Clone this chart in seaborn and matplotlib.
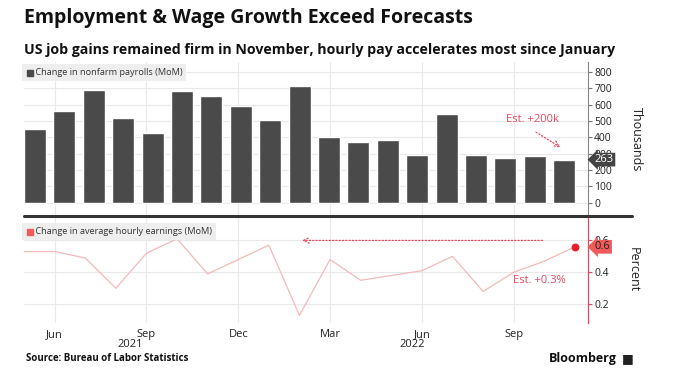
import numpy as np
import matplotlib
matplotlib.use("Agg")
import matplotlib.pyplot as plt
import matplotlib.transforms as mtransforms
import seaborn as sns

# monthly data, May 2021 .. Nov 2022
months = ["May", "Jun", "Jul", "Aug", "Sep", "Oct", "Nov", "Dec", "Jan", "Feb",
          "Mar", "Apr", "May", "Jun", "Jul", "Aug", "Sep", "Oct", "Nov"]
payrolls = [450, 560, 690, 520, 425, 680, 650, 590, 505, 715,
            400, 370, 385, 290, 540, 290, 270, 285, 263]
hourly_earnings = [0.53, 0.53, 0.49, 0.30, 0.52, 0.61, 0.39, 0.48, 0.57, 0.13,
                   0.48, 0.35, 0.38, 0.41, 0.50, 0.28, 0.40, 0.47, 0.56]
tick_labels = ["Jun", "Sep", "Dec", "Mar", "Jun", "Sep"]
year_labels = ["2021", "2022"]

BAR = "#4a4a4a"
LINE = "#f3b9bb"
RED = "#e8475f"
GRID = "#e9e9e9"
TXT = "#222222"

sns.set_style("white")
plt.rcParams["font.family"] = ["Open Sans", "DejaVu Sans"]

fig = plt.figure(figsize=(6.75, 3.91), dpi=100)
ax1 = fig.add_axes([0.0356, 0.4483, 0.8356, 0.3931])
ax2 = fig.add_axes([0.0356, 0.1731, 0.8356, 0.2752], sharex=ax1)

# month positions: 0 = May 2021
line_x = np.arange(len(hourly_earnings))
bar_x = np.linspace(0.36, 17.65, len(payrolls))
tick_pos = [1, 4, 7, 10, 13, 16]


def legend_box(ax, y, label, color):
    # grey label box with a small coloured square
    ax.text(0.003, y, "    " + label, transform=ax.transAxes, fontsize=6.6,
            color="#333333", va="center", ha="left", zorder=5,
            bbox=dict(boxstyle="square,pad=0.45", fc="#eeeeee", ec="none"))
    ax.plot([0.011], [y], marker="s", ms=4.5, color=color, transform=ax.transAxes,
            clip_on=False, zorder=6)


# --- top panel: payrolls
sns.barplot(x=bar_x, y=payrolls, native_scale=True, color=BAR, width=0.75,
            errorbar=None, saturation=1, ax=ax1, zorder=3)
ax1.set_ylim(-80, 860)
ax1.set_xlim(0, 18.43)
ax1.set_yticks(range(0, 801, 100))
ax1.yaxis.tick_right()
ax1.tick_params(axis="y", length=3, width=0.8, color="#777777", labelsize=7.5,
                labelcolor=TXT, pad=1.5, right=True)
ax1.tick_params(axis="x", bottom=False, labelbottom=False)
ax1.set_xticks(tick_pos)
ax1.grid(True, color=GRID, lw=0.8, zorder=0)
for s in ["top", "left", "bottom"]:
    ax1.spines[s].set_visible(False)
ax1.spines["right"].set_color("#888888")
ax1.spines["right"].set_linewidth(0.8)
ax1.set_ylabel("Thousands", rotation=270, fontsize=9, color=TXT, labelpad=22)
ax1.yaxis.set_label_position("right")

legend_box(ax1, 0.93, "Change in nonfarm payrolls (MoM)", BAR)

ax1.annotate("", xy=(17.6, 330), xytext=(16.65, 440),
             arrowprops=dict(arrowstyle="->", color=RED, lw=0.9, ls=":"))
ax1.text(16.6, 510, "Est. +200k", color=RED, fontsize=8, ha="center", va="center")

tr1 = mtransforms.blended_transform_factory(ax1.transAxes, ax1.transData)
ax1.text(1.012, payrolls[-1], str(payrolls[-1]), transform=tr1, fontsize=8,
         color="white", va="center", ha="left", zorder=6, clip_on=False,
         bbox=dict(boxstyle="larrow,pad=0.12", fc="#444444", ec="none"))

# --- bottom panel: hourly earnings
sns.lineplot(x=line_x, y=hourly_earnings, color=LINE, lw=0.9, ax=ax2, zorder=3)
ax2.scatter([line_x[-1]], [hourly_earnings[-1]], s=22, color="#e81e2b", zorder=5,
            clip_on=False)
ax2.set_ylim(0.08, 0.755)
ax2.set_yticks([0.2, 0.4, 0.6])
ax2.set_xlim(0, 18.43)
ax2.set_xticks(tick_pos)
ax2.set_xticklabels(tick_labels)
ax2.yaxis.tick_right()
ax2.tick_params(axis="y", length=3, width=0.8, color=RED, labelsize=7.5,
                labelcolor=TXT, pad=1.5, right=True)
ax2.tick_params(axis="x", length=0, labelsize=8, labelcolor=TXT, pad=4)
ax2.grid(True, color=GRID, lw=0.8, zorder=0)
for s in ["top", "left", "bottom"]:
    ax2.spines[s].set_visible(False)
ax2.spines["right"].set_color(RED)
ax2.spines["right"].set_linewidth(0.9)
ax2.set_ylabel("Percent", rotation=270, fontsize=9, color=TXT, labelpad=22)
ax2.yaxis.set_label_position("right")

trx = mtransforms.blended_transform_factory(ax2.transData, ax2.transAxes)
ax2.text(3.46, -0.2, year_labels[0], transform=trx, fontsize=8, color=TXT,
         ha="center", va="center")
ax2.text(12.68, -0.2, year_labels[1], transform=trx, fontsize=8, color=TXT,
         ha="center", va="center")

legend_box(ax2, 0.85, "Change in average hourly earnings (MoM)", "#ef5b5b")

ax2.annotate("", xy=(9.0, 0.6), xytext=(17.03, 0.6),
             arrowprops=dict(arrowstyle="->", color=RED, lw=0.9, ls=":"))
ax2.text(16.83, 0.348, "Est. +0.3%", color=RED, fontsize=8, ha="center", va="center")

tr2 = mtransforms.blended_transform_factory(ax2.transAxes, ax2.transData)
ax2.text(1.012, hourly_earnings[-1], f"{hourly_earnings[-1]:.1f}", transform=tr2,
         fontsize=8, color=TXT, va="center", ha="left", zorder=6, clip_on=False,
         bbox=dict(boxstyle="larrow,pad=0.12", fc="#ef5b5b", ec="none"))

# separator between panels
fig.add_artist(plt.Line2D([0.0356, 0.937], [0.4483, 0.4483], transform=fig.transFigure,
                          color="#333333", lw=2.2))

# titles and footer
fig.text(0.0356, 0.955, "Employment & Wage Growth Exceed Forecasts", fontsize=14,
         fontweight="bold", color="#111111", va="center", ha="left")
fig.text(0.0356, 0.873, "US job gains remained firm in November, hourly pay accelerates most since January",
         fontsize=10.2, fontweight="bold", color="#111111", va="center", ha="left")
fig.text(0.039, 0.084, "Source: Bureau of Labor Statistics", fontsize=7, fontweight="bold",
         color="#111111", va="center", ha="left")
fig.text(0.914, 0.084, "Bloomberg", fontsize=9, fontweight="bold", color="#111111",
         va="center", ha="right")
fig.text(0.922, 0.082, "■", fontsize=9, color="#222222", va="center", ha="left")

fig.savefig("out.png", dpi=100)
